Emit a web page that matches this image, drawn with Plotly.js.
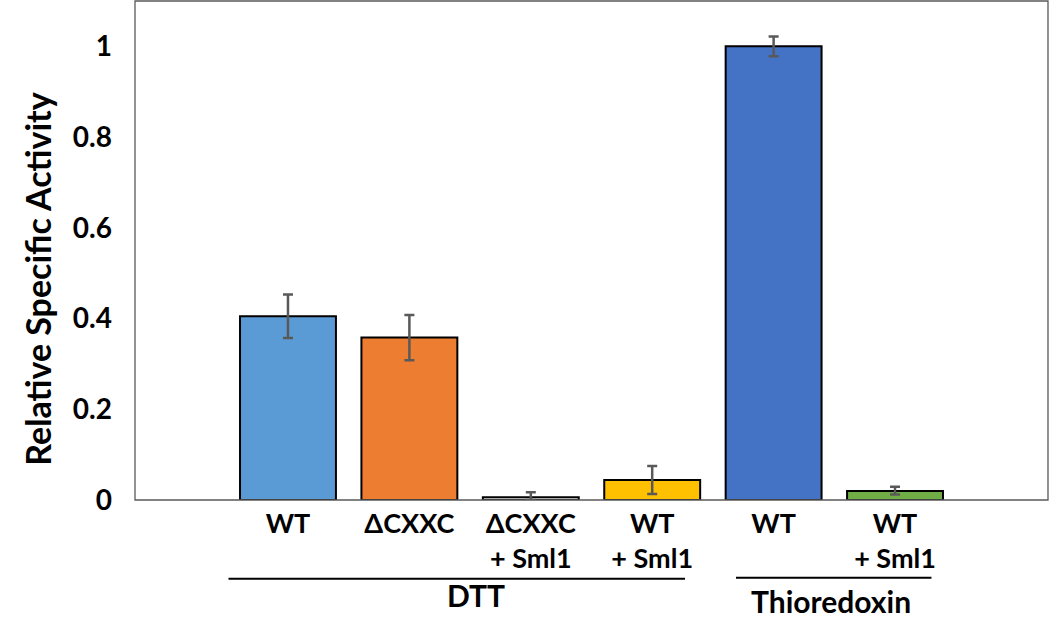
<!DOCTYPE html>
<html>
<head>
<meta charset="utf-8">
<script src="https://cdn.plot.ly/plotly-3.0.1.min.js"></script>
<style>
  html, body { margin: 0; padding: 0; background: #ffffff; }
  #chart { width: 1050px; height: 618px; }
</style>
</head>
<body>
<div id="chart"></div>
<script>
CHART = document.getElementById('chart');

// values
const labels = ['WT', 'ΔCXXC', 'ΔCXXC<br>+ Sml1', 'WT<br>+ Sml1', 'WT', 'WT<br>+ Sml1'];
const activity = [0.405, 0.358, 0.006, 0.044, 1.0, 0.02];
const errPlus = [0.048, 0.05, 0.011, 0.031, 0.022, 0.009];
const errMinus = [0.048, 0.05, 0.006, 0.031, 0.022, 0.008];
const barColors = ['#5B9BD5', '#ED7D31', '#E7E6E6', '#FFC000', '#4472C4', '#70AD47'];
const groups = ['DTT', 'Thioredoxin'];
const yTicks = [0, 0.2, 0.4, 0.6, 0.8, 1];

const FONT = 'Lato, "Open Sans", sans-serif';
const X_RANGE = [-1.26, 6.26];

// data x -> paper fraction (for the group brackets below the axis)
function toPaper(x) {
    return (x - X_RANGE[0]) / (X_RANGE[1] - X_RANGE[0]);
}

function plot() {
    const positions = labels.map((_, i) => i);

    const trace = [{
        type: 'bar',
        x: positions,
        y: activity,
        width: 0.79,
        marker: {
            color: barColors,
            line: { color: '#000000', width: 2 }
        },
        error_y: {
            type: 'data',
            symmetric: false,
            array: errPlus,
            arrayminus: errMinus,
            color: '#595959',
            thickness: 2.5,
            width: 5
        },
        hoverinfo: 'skip'
    }];

    const layout = {
        width: 1050,
        height: 618,
        margin: { l: 135, r: 2, t: 1, b: 118 },
        paper_bgcolor: '#ffffff',
        plot_bgcolor: '#ffffff',
        showlegend: false,
        font: { family: FONT, color: '#000000', size: 26, weight: 700 },
        xaxis: {
            range: X_RANGE,
            tickvals: positions,
            ticktext: labels,
            ticks: '',
            showgrid: false,
            zeroline: false,
            showline: false,
            ticklabelstandoff: 5,
            tickfont: { family: FONT, size: 27, weight: 700, color: '#000000' }
        },
        yaxis: {
            range: [0, 1.1],
            tickvals: yTicks,
            ticks: '',
            showgrid: false,
            zeroline: false,
            showline: false,
            ticklabelstandoff: 22,
            tickfont: { family: FONT, size: 28, weight: 700, color: '#000000' }
        },
        shapes: [
            // plot frame
            { type: 'rect', xref: 'paper', yref: 'paper', x0: 0, x1: 1, y0: 0, y1: 1,
              line: { color: '#595959', width: 1.3 } },
            // group brackets
            { type: 'line', xref: 'paper', yref: 'paper', x0: toPaper(-0.49), x1: toPaper(3.27),
              y0: -0.158, y1: -0.158, line: { color: '#000000', width: 2 } },
            { type: 'line', xref: 'paper', yref: 'paper', x0: toPaper(3.69), x1: toPaper(5.30),
              y0: -0.156, y1: -0.156, line: { color: '#000000', width: 2 } }
        ],
        annotations: [
            { text: 'Relative Specific Activity', xref: 'paper', yref: 'paper',
              x: -0.107, y: 0.442, textangle: -90, showarrow: false,
              xanchor: 'center', yanchor: 'middle',
              font: { family: FONT, size: 34, weight: 700, color: '#000000' } },
            { text: groups[0], xref: 'paper', yref: 'paper',
              x: toPaper(1.55), y: -0.19, showarrow: false,
              xanchor: 'center', yanchor: 'middle',
              font: { family: FONT, size: 30, weight: 700, color: '#000000' } },
            { text: groups[1], xref: 'paper', yref: 'paper',
              x: toPaper(4.47), y: -0.203, showarrow: false,
              xanchor: 'center', yanchor: 'middle',
              font: { family: FONT, size: 30, weight: 700, color: '#000000' } }
        ]
    };

    const config = { staticPlot: true, displayModeBar: false };

    Plotly.newPlot(CHART, trace, layout, config);
}

plot();
</script>
</body>
</html>
